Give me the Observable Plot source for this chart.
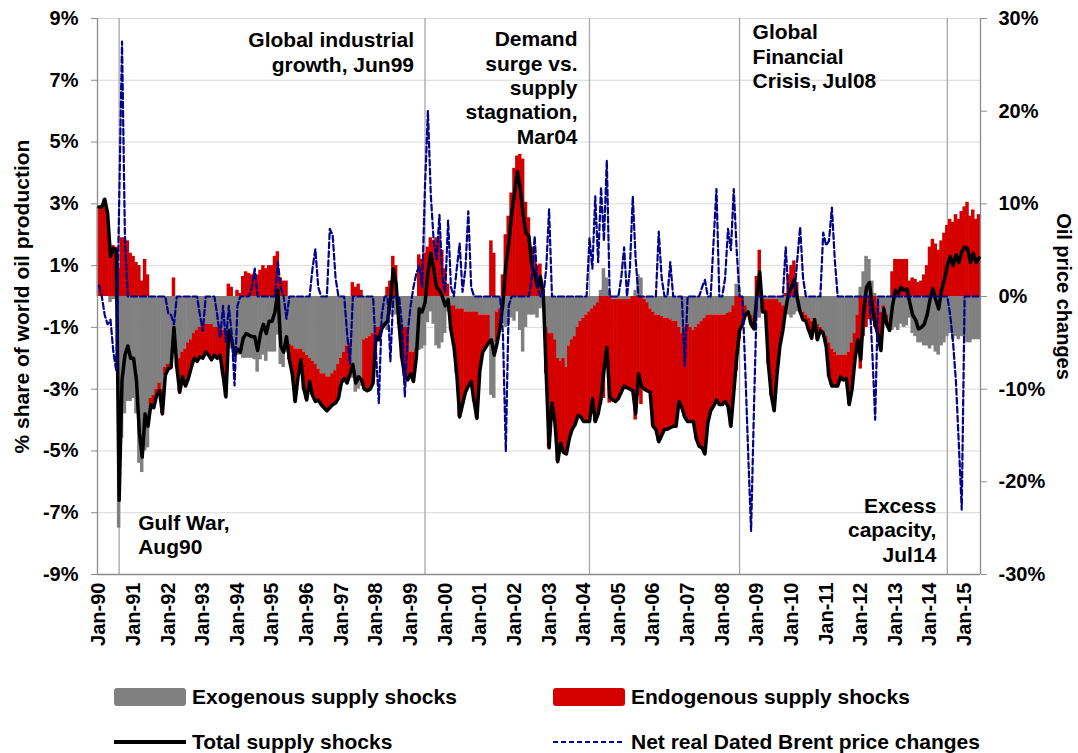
<!DOCTYPE html>
<html><head><meta charset="utf-8">
<script src="https://cdn.jsdelivr.net/npm/d3@7"></script>
<script src="https://cdn.jsdelivr.net/npm/@observablehq/plot@0.6"></script>
<style>
body{margin:0;background:#fff;font-family:"Liberation Sans",Arial,sans-serif;}
#wrap{position:relative;width:1078px;height:753px;overflow:hidden;}
#wrap svg.plot{position:absolute;left:0;top:0;}
.leg{position:absolute;font-weight:bold;font-size:21px;line-height:24px;color:#000;white-space:nowrap;}
.sw{position:absolute;}
</style></head><body><div id="wrap"></div>
<script>
// Monthly data, Jan-1990 .. Jun-2015 (one row per year)
const yearLabels = ["Jan-90","Jan-91","Jan-92","Jan-93","Jan-94","Jan-95","Jan-96","Jan-97","Jan-98","Jan-99","Jan-00","Jan-01","Jan-02","Jan-03","Jan-04","Jan-05","Jan-06","Jan-07","Jan-08","Jan-09","Jan-10","Jan-11","Jan-12","Jan-13","Jan-14","Jan-15"];

// Exogenous supply shocks (% of world oil production)
const exo = [
 0, 0, 0, 0, -0.2, -0.1, -0.1, -7.5, -4.6, -3.8, -3.4, -3.4,
 -3.3, -3.8, -5.4, -5.7, -5.0, -4.9, -3.3, -3.2, -3.0, -2.8, -3.0, -2.3,
 -2.2, -2.2, -1.6, -2.1, -2.0, -1.8, -1.7, -1.5, -1.4, -1.2, -1.1, -1.0,
 -0.95, -0.9, -0.9, -0.9, -1.0, -1.0, -1.0, -1.1, -1.2, -1.5, -1.7, -1.9,
 -1.9, -1.9, -2.0, -2.0, -2.0, -2.0, -2.05, -2.45, -2.05, -1.9, -2.1, -1.8,
 -1.8, -1.8, -1.25, -2.2, -2.3, -1.8, -1.55, -1.6, -1.7, -1.7, -1.7, -1.8,
 -1.9, -2.0, -2.1, -2.2, -2.35, -2.5, -2.5, -2.6, -2.6, -2.5, -2.4, -2.2,
 -2.0, -1.8, -1.6, -1.5, -2.65, -3.1, -3.0, -2.9, -1.4, -1.35, -1.3, -1.2,
 -1.0, -1.0, -0.95, -0.9, -1.1, -0.6, -0.4, -0.6, -0.8, -1.0, -1.0, -1.0,
 -1.8, -1.8, -1.7, -1.75, -1.7, -1.6, -0.85, -0.5, -0.9, -1.6, -1.7, -1.5,
 -1.2, -0.5, -0.3, -0.3, -0.4, -0.4, -0.4, -0.5, -0.5, -0.5, -0.5, -0.5,
 -0.6, -0.6, -0.6, -0.6, -3.2, -3.3, -0.5, -0.4, -0.9, -1.0, -0.9, -0.7,
 -0.8, -0.5, -1.1, -1.8, -1.0, -0.6, -0.6, -0.6, -0.7, -0.4, -0.3, -1.0,
 -1.2, -1.2, -1.4, -2.0, -2.1, -2.0, -2.3, -1.6, -1.4, -1.3, -1.0, -0.8,
 -0.7, -0.6, -0.5, -0.4, -0.3, -0.2, 0.2, 0.9, 0.6, 0.2, -0.1, -0.1,
 -0.1, -0.1, -0.1, -0.1, -0.1, 0.0, 0.2, 0.7, 0.6, -0.1, -0.2, -0.4,
 -0.5, -0.6, -0.6, -0.65, -0.7, -0.7, -0.75, -0.8, -0.8, -1.0, -1.2, -1.0,
 -0.9, -1.0, -1.1, -1.0, -0.9, -0.8, -0.7, -0.6, -0.6, -0.6, -0.6, -0.6,
 -0.6, -0.6, -0.55, -0.5, -0.3, 0.4, 0.3, 0.0, -0.3, -0.5, -0.6, -0.7,
 -0.6, -0.7, -0.3, -0.1, -0.1, -0.1, -0.1, -0.1, -0.2, -0.3, -0.5, -0.6,
 -0.7, -0.6, -0.5, -0.5, -0.5, -0.6, -0.7, -0.8, -0.7, -0.9, -1.0, -1.1,
 -1.3, -1.5, -1.7, -1.8, -1.9, -1.9, -1.9, -1.9, -1.8, -1.5, -1.2, -0.6,
 0.3, 0.8, 1.3, 1.2, 0.5, 0.1, -0.3, -0.5, -0.3, -0.6, -0.8, -1.1,
 -1.0, -1.1, -0.9, -1.0, -0.95, -0.7, -1.2, -1.3, -1.5, -1.5, -1.6, -1.6,
 -1.7, -1.6, -1.8, -1.9, -1.6, -1.5, -1.3, -1.2, -1.4, -1.3, -1.4, -1.3,
 -1.3, -1.5, -1.5, -1.4, -1.4, -1.4
];

// Endogenous supply shocks (% of world oil production)
const endo = [
 2.9, 2.9, 3.15, 2.7, 1.5, 1.65, 1.6, 0.9, 1.9, 1.9, 1.8, 1.4,
 1.3, 1.1, 1.0, 0.5, 1.2, 0.7, -0.2, -0.4, -0.2, -0.25, -0.8, -0.25,
 -0.15, -0.1, 0.6, -0.2, -1.1, -0.8, -1.2, -1.15, -0.9, -0.8, -1.0, -0.95,
 -1.05, -0.9, -1.0, -1.15, -0.9, -1.0, -0.9, -1.45, -2.05, 0.4, 0.3, 0.0,
 0.2, 0.1, 0.65, 0.8, 0.75, 0.7, 0.75, 0.7, 0.85, 1.0, 0.9, 1.0,
 1.0, 1.3, 1.45, 0.6, 0.5, 0.5, -0.5, -0.9, -1.7, -0.9, -0.35, -1.2,
 -1.45, -0.75, -1.1, -1.2, -1.0, -1.0, -1.1, -1.1, -1.0, -1.0, -1.05, -1.1,
 -0.8, -0.85, -1.2, -1.0, 0.45, 0.3, 0.4, 0.2, -1.6, -1.7, -1.7, -1.6,
 -0.3, -0.4, -0.1, 0.0, 0.3, 0.5, 1.3, 1.0, -0.1, -1.0, -1.6, -1.7,
 -0.7, -0.95, -0.25, 1.35, 1.2, 1.4, 1.6, 1.9, 1.8, 1.9, 1.9, 1.5,
 0.9, 0.4, -0.8, -1.3, -2.1, -3.5, -3.1, -2.6, -2.4, -2.25, -2.9, -3.45,
 -1.8, -1.2, -1.05, -0.9, 1.8, 1.4, -1.0, -0.6, 0.7, 2.0, 2.6, 3.35,
 4.15, 4.55, 4.6, 4.45, 3.05, 2.55, 1.6, 1.35, 1.0, 1.05, 0.35, -1.5,
 -3.7, -2.25, -2.65, -3.35, -2.65, -3.05, -2.8, -3.0, -2.9, -2.85, -2.85, -3.1,
 -3.35, -3.45, -3.55, -2.9, -3.75, -3.6, -3.5, -3.3, -2.25, -3.45, -3.25, -3.3,
 -3.2, -3.0, -2.8, -2.85, -2.9, -3.05, -4.0, -3.2, -3.5, -2.9, -2.85, -2.7,
 -3.7, -3.7, -4.1, -3.85, -3.6, -3.6, -3.5, -3.4, -3.4, -2.4, -2.4, -2.9,
 -3.15, -3.05, -2.95, -3.6, -3.95, -4.1, -4.4, -3.5, -3.1, -2.95, -2.75, -2.9,
 -2.9, -2.8, -3.0, -3.7, -2.8, -2.4, -1.4, -0.9, -0.3, 0.0, -0.3, -0.35,
 0.65, 1.5, -0.2, -0.4, -2.1, -3.1, -3.6, -2.4, -1.4, -0.8, 0.1, 0.7,
 1.0, 1.15, 0.45, 0.0, -0.25, -0.2, -0.4, -0.55, -0.05, -0.5, -0.1, -0.1,
 -0.3, -1.1, -1.2, -1.1, -1.0, -0.7, -0.8, -0.75, -1.7, -1.5, -0.85, -0.8,
 -2.35, -1.3, -1.0, -0.75, -0.8, -1.0, -0.95, -1.25, -0.1, -0.3, -0.3, 0.8,
 1.2, 1.2, 1.2, 1.2, 1.2, 0.5, 0.6, 0.55, 0.45, 0.5, 0.7, 1.0,
 1.6, 1.85, 1.7, 1.5, 1.8, 2.05, 2.3, 2.5, 2.4, 2.65, 2.5, 2.75,
 2.9, 3.05, 2.6, 2.8, 2.5, 2.65
];

// Total supply shocks (% of world oil production)
const total = [
 2.9, 2.9, 3.15, 2.7, 1.3, 1.55, 1.5, -6.6, -2.7, -1.9, -1.6, -2.0,
 -2.0, -2.7, -4.4, -5.2, -3.8, -4.2, -3.5, -3.6, -3.2, -3.05, -3.8, -2.55,
 -2.35, -2.3, -1.0, -2.3, -3.1, -2.6, -2.9, -2.65, -2.3, -2.0, -2.1, -1.95,
 -2.0, -1.8, -1.9, -2.05, -1.9, -2.0, -1.9, -2.55, -3.25, -1.1, -1.4, -1.9,
 -1.7, -1.8, -1.35, -1.2, -1.25, -1.3, -1.3, -1.75, -1.2, -0.9, -1.2, -0.8,
 -0.8, -0.5, 0.2, -1.6, -1.8, -1.3, -2.05, -2.5, -3.4, -2.6, -2.05, -3.0,
 -3.35, -2.75, -3.2, -3.4, -3.35, -3.5, -3.6, -3.7, -3.6, -3.5, -3.45, -3.3,
 -2.8, -2.65, -2.8, -2.5, -2.2, -2.8, -2.6, -2.7, -3.0, -3.05, -3.0, -2.8,
 -1.3, -1.4, -1.05, -0.9, -0.8, -0.1, 0.9, 0.4, -0.9, -2.0, -2.6, -2.7,
 -2.5, -2.75, -1.95, -0.4, -0.5, -0.2, 0.75, 1.4, 0.9, 0.3, 0.2, 0.0,
 -0.3, -0.1, -1.1, -1.6, -2.5, -3.9, -3.5, -3.1, -2.9, -2.75, -3.4, -3.95,
 -2.4, -1.8, -1.65, -1.5, -1.4, -1.9, -1.5, -1.0, -0.2, 1.0, 1.7, 2.65,
 3.35, 4.05, 3.5, 2.65, 2.05, 1.95, 1.0, 0.75, 0.3, 0.65, 0.05, -2.5,
 -4.9, -3.45, -4.05, -5.35, -4.75, -5.05, -5.1, -4.6, -4.3, -4.15, -3.85, -3.9,
 -4.05, -4.05, -4.05, -3.3, -4.05, -3.8, -3.3, -2.4, -1.65, -3.25, -3.35, -3.4,
 -3.3, -3.1, -2.9, -2.95, -3.0, -3.05, -3.8, -2.5, -2.9, -3.0, -3.05, -3.1,
 -4.2, -4.3, -4.7, -4.5, -4.3, -4.3, -4.25, -4.2, -4.2, -3.4, -3.6, -3.9,
 -4.05, -4.05, -4.05, -4.6, -4.85, -4.9, -5.1, -4.1, -3.7, -3.55, -3.35, -3.5,
 -3.5, -3.4, -3.55, -4.2, -3.1, -2.0, -1.1, -0.9, -0.6, -0.5, -0.9, -1.05,
 0.05, 0.8, -0.5, -0.5, -2.2, -3.2, -3.7, -2.5, -1.6, -1.1, -0.4, 0.1,
 0.3, 0.55, -0.05, -0.5, -0.75, -0.8, -1.1, -1.35, -0.75, -1.4, -1.1, -1.2,
 -1.6, -2.6, -2.9, -2.9, -2.9, -2.6, -2.7, -2.65, -3.5, -3.0, -2.05, -1.4,
 -2.05, -0.5, 0.3, 0.45, -0.3, -0.9, -1.25, -1.75, -0.4, -0.9, -1.1, -0.3,
 0.2, 0.1, 0.3, 0.2, 0.25, -0.2, -0.6, -0.75, -1.05, -1.0, -0.9, -0.6,
 -0.1, 0.25, -0.1, -0.4, 0.2, 0.55, 1.0, 1.3, 1.0, 1.35, 1.1, 1.45,
 1.6, 1.55, 1.1, 1.4, 1.1, 1.25
];

// Net real Dated Brent price changes (%), right axis
const brent = [
 1.2, 0, -2, -3, -2.5, -6, -8, 10, 27.5, 6.5, 0, 0,
 0, 0, 0, 0, 0, 0, 0, 0, 0, 0, 0, 0,
 -1.8, -2, -3, 0, 0, 0, 0, 0, 0, 0, 0, -2,
 -3.7, 0, 0, 0, 0, -2, -4.5, -1, -4.9, -1, -4, -9.6,
 -1, 0, 0, 0, 0, 1, 3, 0, 0, 0, 0, 0,
 0, 0, 3.7, 1, 0, -2.4, 0, 0, 0, 0, 0, 0,
 0, 0, 3, 5.1, 1, 0, 0, 0, 7.3, 6.6, 2, 0,
 0, 0, -4, -7.3, 0, 0, 0, 0, 0, 0, 0, 0,
 -6, -11.5, -2, 0, 0, -7, 0, 0, 0, -3, -10.8, -4,
 -1, 1, 2.5, 3.3, 1, 12, 20, 11, 6, 4, 8.8, 2,
 0.5, 8.2, 1, 0, 3, 5.7, 0.5, 3, 9.2, 1, 0, 0,
 0, 0, 0, 0, 0, 0, 0, 0, -4, -16.7, -1, 0,
 0, 0, 0, 0, 0, 0, 2, 6.5, 1, 0, 0, 3,
 9.4, 0, 0, 0, 0, 0, 0, 0, 0, 0, 0, 0,
 0, 0, 6.3, 3, 10.8, 3.7, 11.8, 6, 14.7, 0, 0, 0,
 0, 2, 5.3, 0, 3, 10.8, 4, 0, 0, 0, 0, 0,
 0, 0, 7, 2, 0, 0, 3.7, 0, 0, 0, 0, -7.5,
 0, 0, 0, 0, 0, 1, 1.8, 0, 0, 6, 11.6, 0,
 0, 2, 7.3, 5, 11.6, 5, 0, 0, -8, -17, -25.3, -12,
 0, 0, 0, 0, 0, 0, 0, 0, 0, 0, 5.3, 0,
 0, 0, 4, 7.5, 2, 0, 0, 0, 0, 0, 0, 6.9,
 5.5, 6, 9.6, 4, 0, 0, 0, 0, 0, 0, 0, 0,
 0, 0, 0, 0, -6, -13.3, 0, 0, 0, 0, 0, 0,
 0, 0, 0, 0, 0, 0, 0, 0, 0, 0, 0, 0,
 0, 0, 0, 0, 0, 0, 0, -2, -5, -9.2, -16, -23,
 0, 0, 0, 0, 0, 0
];

// Axis ticks
const leftTicks = [-9, -7, -5, -3, -1, 1, 3, 5, 7, 9];
const rightTicks = [-30, -20, -10, 0, 10, 20, 30];

// Events (month index from Jan-90) and their annotations
const eventMonths = [7, 113, 170, 222, 294];
const eventLabels = ["Gulf War,\nAug90", "Global industrial\ngrowth, Jun99", "Demand\nsurge vs.\nsupply\nstagnation,\nMar04", "Global\nFinancial\nCrisis, Jul08", "Excess\ncapacity,\nJul14"];

// ---- build chart ----
const n = total.length;
const leftPerRight = 9 / 30; // right axis 30% <-> left axis 9%
const exoRows = exo.map((v, i) => ({i, y1: 0, y2: v}));
const endoRows = endo.map((v, i) => {
  const base = (v * exo[i] > 0) ? exo[i] : 0;
  return {i, y1: base, y2: base + v};
});
const totalRows = total.map((v, i) => ({i, v}));
const brentRows = brent.map((b, i) => ({i, b}));

// annotation placement (data coordinates)
const annoPlace = [
  {y: -7.70, anchor: "start", dx: 19},
  {y: 7.92, anchor: "end", dx: -11},
  {y: 6.78, anchor: "end", dx: -12},
  {y: 7.79, anchor: "start", dx: 13},
  {y: -7.54, anchor: "end", dx: -11}
];

const txt = {fontWeight: "bold", fill: "#000"};

const chart = Plot.plot({
  width: 1078,
  height: 660,
  marginLeft: 97,
  marginRight: 98,
  marginTop: 18,
  marginBottom: 86,
  x: {type: "linear", domain: [-0.5, n - 0.5]},
  y: {domain: [-9, 9]},
  style: {fontFamily: "'Liberation Sans', Arial, sans-serif", fontSize: "20px", color: "#000", background: "#fff", overflow: "visible"},
  marks: [
    Plot.gridY(leftTicks.filter(d => d !== -9), {stroke: "#d9d9d9", strokeOpacity: 1, strokeWidth: 1}),
    Plot.ruleX(eventMonths, {stroke: "#a6a6a6", strokeWidth: 1.3}),
    Plot.rect(exoRows, {x1: d => d.i - 0.5, x2: d => d.i + 0.5, y1: "y1", y2: "y2", fill: "#808080", insetLeft: -0.3, insetRight: -0.3}),
    Plot.rect(endoRows, {x1: d => d.i - 0.5, x2: d => d.i + 0.5, y1: "y1", y2: "y2", fill: "#d40000", insetLeft: -0.3, insetRight: -0.3}),
    Plot.ruleX([-0.5, n - 0.5], {stroke: "#8c8c8c", strokeWidth: 1.3}),
    Plot.ruleY([-9], {stroke: "#8c8c8c", strokeWidth: 1.3}),
    Plot.line(totalRows, {x: "i", y: "v", stroke: "#000", strokeWidth: 3.5}),
    Plot.line(brentRows, {x: "i", y: d => d.b * leftPerRight, stroke: "#00008b", strokeWidth: 2.2, strokeDasharray: "6,3"}),
    Plot.axisY(leftTicks, {anchor: "left", tickFormat: d => d + "%", tickSize: 6, tickPadding: 13, stroke: "#8c8c8c", fill: "#000", fontSize: 20, fontWeight: "bold", label: null}),
    Plot.axisY(rightTicks.map(d => d * leftPerRight), {anchor: "right", tickFormat: d => Math.round(d / leftPerRight) + "%", tickSize: 6, tickPadding: 12, stroke: "#8c8c8c", fill: "#000", fontSize: 20, fontWeight: "bold", label: null}),
    Plot.axisX(yearLabels.map((_, k) => k * 12), {tickFormat: d => yearLabels[d / 12], tickRotate: -90, tickSize: 0, tickPadding: 8, fill: "#000", fontSize: 20, fontWeight: "bold", label: null}),
    Plot.text(["% share of world oil production"], {frameAnchor: "left", textAnchor: "middle", rotate: -90, dx: -75, fontSize: 21, ...txt}),
    Plot.text(["Oil price changes"], {frameAnchor: "right", textAnchor: "middle", rotate: 90, dx: 83, fontSize: 20, ...txt}),
    ...eventMonths.map((m, k) => Plot.text([eventLabels[k]], {
      x: () => m, y: () => annoPlace[k].y, text: d => d,
      textAnchor: annoPlace[k].anchor, dx: annoPlace[k].dx,
      lineAnchor: "middle", lineHeight: 1.16, fontSize: 21, ...txt
    }))
  ]
});
const wrap = document.getElementById("wrap");
wrap.appendChild(chart);

// ---- legend ----
const legendItems = [
  {label: "Exogenous supply shocks", kind: "box", color: "#808080", left: 114, top: 688},
  {label: "Endogenous supply shocks", kind: "box", color: "#d40000", left: 553, top: 688},
  {label: "Total supply shocks", kind: "line", color: "#000", left: 114, top: 742},
  {label: "Net real Dated Brent price changes", kind: "dash", color: "#00008b", left: 553, top: 742}
];
for (const it of legendItems) {
  if (it.kind === "box") {
    const s = document.createElement("div");
    s.className = "sw";
    Object.assign(s.style, {left: it.left + "px", top: it.top + "px", width: "72px", height: "18px", background: it.color, borderRadius: "3px"});
    wrap.appendChild(s);
  } else {
    const ns = "http://www.w3.org/2000/svg";
    const svg = document.createElementNS(ns, "svg");
    svg.setAttribute("width", 72); svg.setAttribute("height", 8);
    Object.assign(svg.style, {position: "absolute", left: it.left + "px", top: (it.top - 4) + "px"});
    const ln = document.createElementNS(ns, "line");
    ln.setAttribute("x1", 0); ln.setAttribute("x2", 72); ln.setAttribute("y1", 4); ln.setAttribute("y2", 4);
    ln.setAttribute("stroke", it.color);
    ln.setAttribute("stroke-width", it.kind === "line" ? 4 : 2);
    if (it.kind === "dash") ln.setAttribute("stroke-dasharray", "5,3");
    svg.appendChild(ln);
    wrap.appendChild(svg);
  }
  const t = document.createElement("div");
  t.className = "leg";
  t.textContent = it.label;
  const midY = it.kind === "box" ? it.top + 9 : it.top;
  Object.assign(t.style, {left: (it.left + 78) + "px", top: (midY - 12) + "px"});
  wrap.appendChild(t);
}
</script>
</body></html>
